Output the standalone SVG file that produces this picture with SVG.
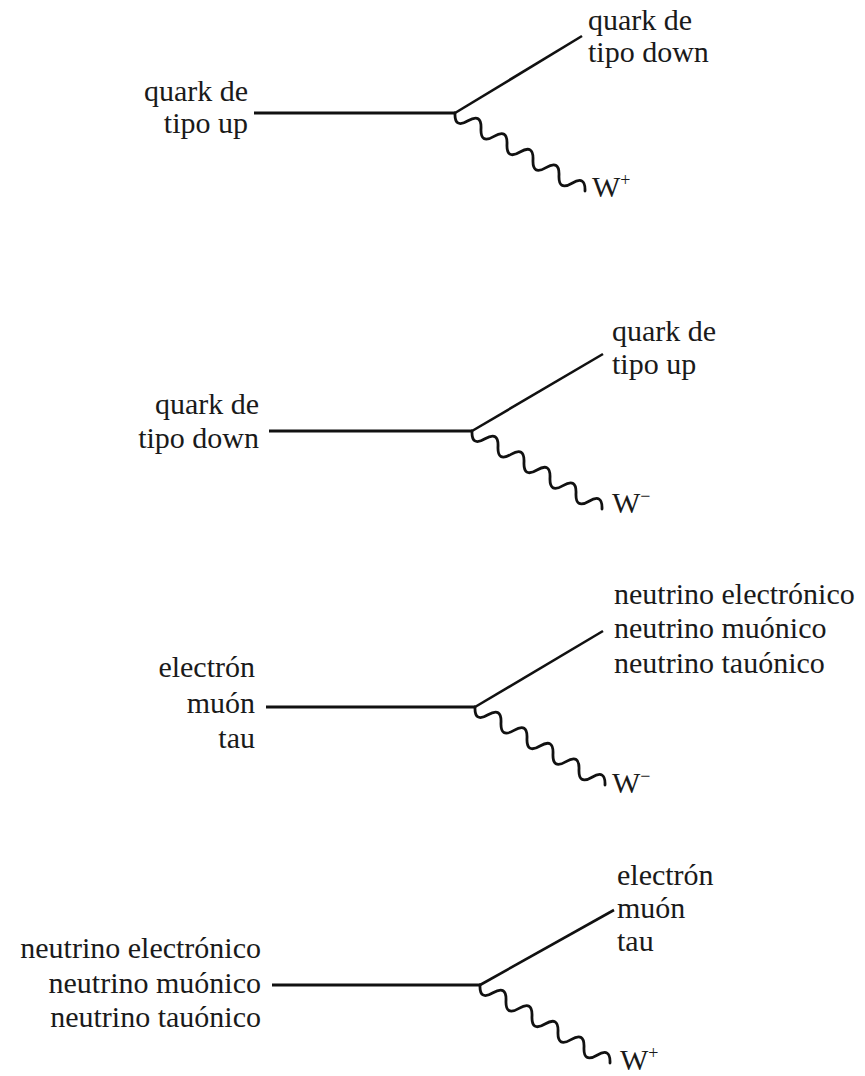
<svg xmlns="http://www.w3.org/2000/svg" xmlns:xlink="http://www.w3.org/1999/xlink" width="865" height="1076" viewBox="0 0 865 1076">
<style>
text{font-family:'Liberation Serif','DejaVu Serif','Times New Roman',serif;font-size:30px;fill:#1a1a1a}
.e{text-anchor:end}
.line{stroke:#111;stroke-width:3;fill:none;stroke-linecap:butt}
.diag{stroke:#111;stroke-width:2.6;fill:none}
.wave{stroke:#111;stroke-width:2.8;fill:none;stroke-linecap:round}
.sup{font-size:18px}
</style>
<defs>
<path id="wv" class="wave" d="M0 0 Q-0.7 15.9 13 7.8 T26 15.6 T39 23.4 T52 31.2 T65 39 T78 46.8 T91 54.6 T104 62.4 T117 70.2 T130 78"/>
</defs>
<rect width="865" height="1076" fill="#fff"/>
<g id="connectors">
  <line class="line" x1="254" y1="113" x2="455" y2="113"/>
  <line class="diag" x1="455" y1="113" x2="582" y2="36"/>
  <use xlink:href="#wv" transform="translate(455,113)"/>

  <line class="line" x1="269" y1="431" x2="472" y2="431"/>
  <line class="diag" x1="472" y1="431" x2="603" y2="354"/>
  <use xlink:href="#wv" transform="translate(472,431)"/>

  <line class="line" x1="266" y1="707" x2="475" y2="707"/>
  <line class="diag" x1="475" y1="707" x2="603" y2="631"/>
  <use xlink:href="#wv" transform="translate(475,707)"/>

  <line class="line" x1="272" y1="985" x2="480" y2="985"/>
  <line class="diag" x1="480" y1="985" x2="614" y2="910"/>
  <use xlink:href="#wv" transform="translate(480,985)"/>
</g>

<g font-family="Liberation Serif, DejaVu Serif, serif">
<g id="d1-in"><text class="e" x="248" y="101">quark de</text><text class="e" x="248" y="133">tipo up</text></g>
<g id="d1-out"><text x="588" y="30">quark de</text><text x="588" y="62">tipo down</text></g>
<g id="d1-w"><text x="592" y="197">W<tspan class="sup" dy="-11">+</tspan></text></g>

<g id="d2-in"><text class="e" x="259" y="414">quark de</text><text class="e" x="259" y="448">tipo down</text></g>
<g id="d2-out"><text x="612" y="341">quark de</text><text x="612" y="374">tipo up</text></g>
<g id="d2-w"><text x="612" y="513">W<tspan class="sup" dy="-11">−</tspan></text></g>

<g id="d3-in"><text class="e" x="255" y="677">electrón</text><text class="e" x="255" y="713">muón</text><text class="e" x="255" y="748">tau</text></g>
<g id="d3-out"><text x="614" y="604">neutrino electrónico</text><text x="614" y="638">neutrino muónico</text><text x="614" y="673">neutrino tauónico</text></g>
<g id="d3-w"><text x="612" y="793">W<tspan class="sup" dy="-11">−</tspan></text></g>

<g id="d4-in"><text class="e" x="261" y="958">neutrino electrónico</text><text class="e" x="261" y="993">neutrino muónico</text><text class="e" x="261" y="1027">neutrino tauónico</text></g>
<g id="d4-out"><text x="617" y="885">electrón</text><text x="617" y="918">muón</text><text x="617" y="951">tau</text></g>
<g id="d4-w"><text x="620" y="1070">W<tspan class="sup" dy="-11">+</tspan></text></g>
</g>
</svg>
